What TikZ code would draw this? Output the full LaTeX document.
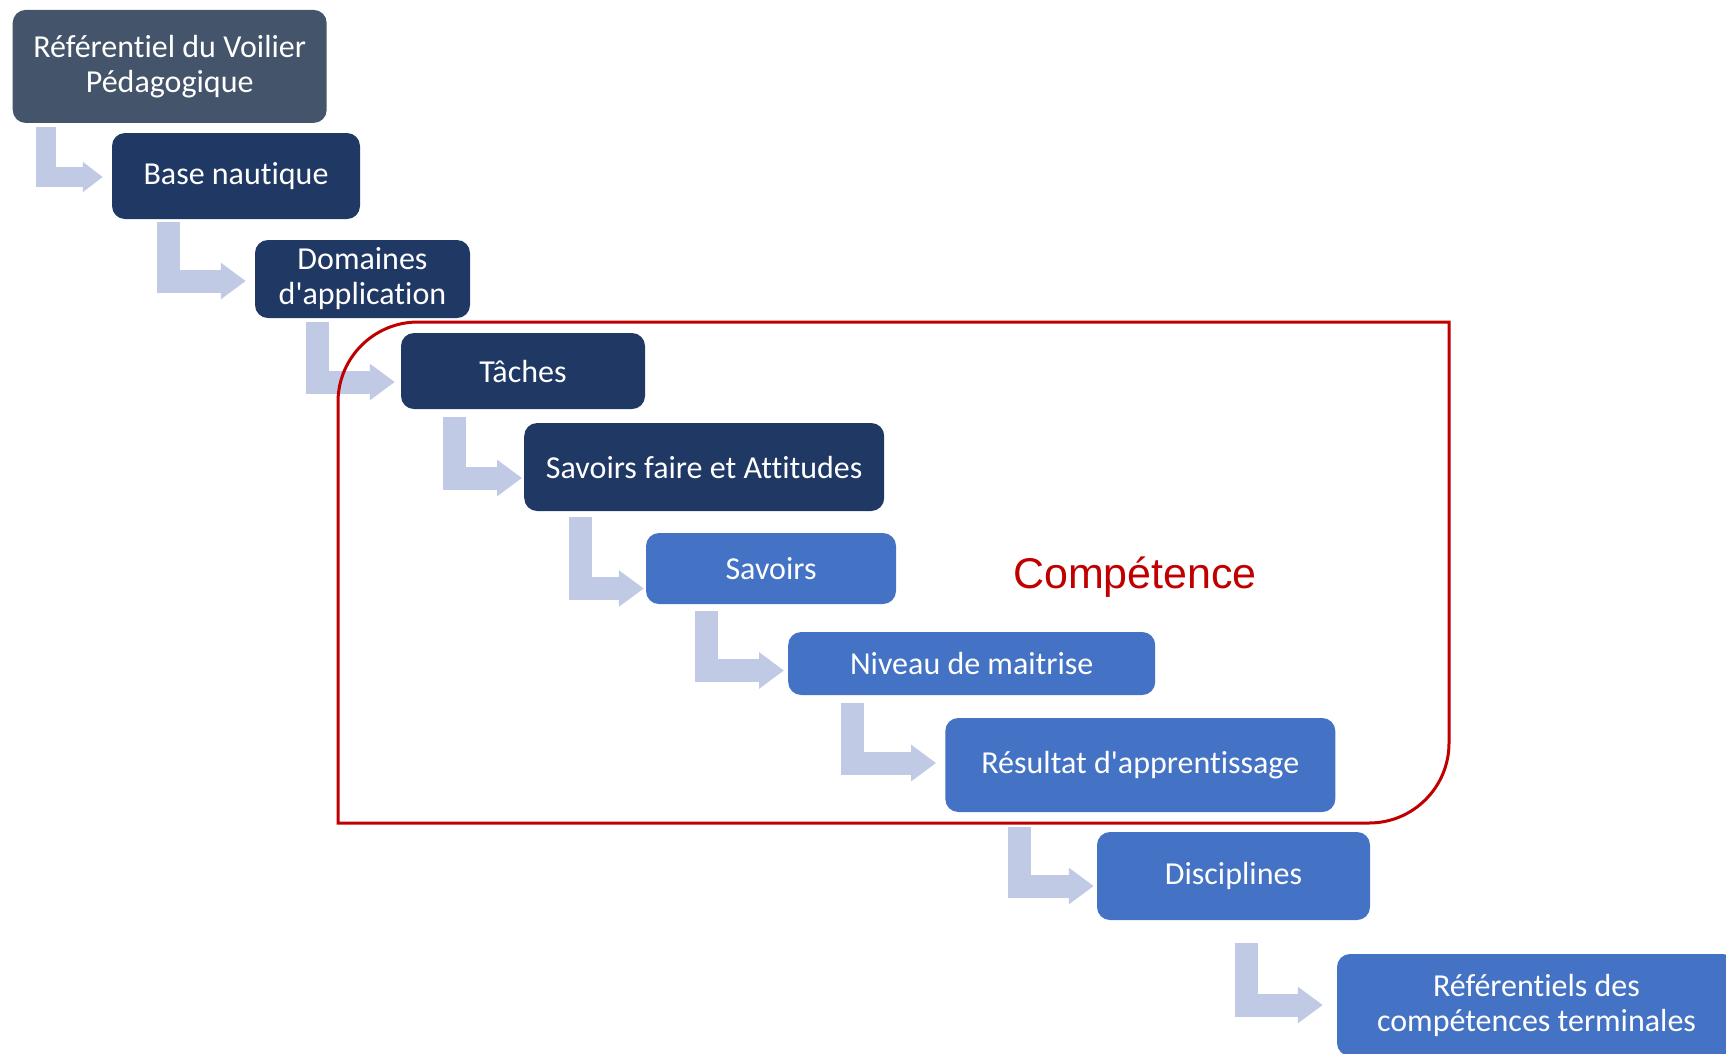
\documentclass[tikz,border=0pt]{standalone}
\usepackage{fontspec}
\setmainfont{Carlito}[Ligatures=NoCommon]
\newfontfamily\arialfont{Liberation Sans}
\usetikzlibrary{arrows.meta}
\definecolor{slate}{HTML}{44546A}
\definecolor{navy}{HTML}{203864}
\definecolor{midblue}{HTML}{4472C4}
\definecolor{bentcol}{HTML}{C0CAE4}
\definecolor{framered}{HTML}{C00000}
\tikzset{
  box/.style={rounded corners=13pt, text=white, align=center, inner sep=0pt,
    font=\fontsize{32}{35}\selectfont},
  bent/.style={draw=bentcol, line width=23pt, -{Triangle[length=25pt,width=35pt]}},
}
\begin{document}
\begin{tikzpicture}[x=1pt,y=-1pt]
\path[use as bounding box, clip] (0,0) rectangle (1726,1053);

\node [box, fill=slate, minimum width=314pt, minimum height=113pt] (ref) at (169.7,66.4) {Référentiel du Voilier\\Pédagogique};

\node [box, fill=navy, minimum width=248pt, minimum height=86pt] (base) at (236,176) {Base nautique};

\node [box, fill=navy, minimum width=215pt, minimum height=78pt] (domaines) at (362.5,279) {Domaines\\d\textquotesingle application};

\node [box, fill=navy, minimum width=244pt, minimum height=76pt] (taches) at (523,371) {Tâches};

\node [box, fill=navy, minimum width=360pt, minimum height=88pt] (savfaire) at (704.2,467) {Savoirs faire et Attitudes};

\node [box, fill=midblue, minimum width=250pt, minimum height=71pt] (savoirs) at (771,568.5) {Savoirs};

\node [box, fill=midblue, minimum width=367pt, minimum height=63pt] (niveau) at (971.7,663.5) {Niveau de maitrise};

\node [box, fill=midblue, minimum width=390pt, minimum height=94pt] (resultat) at (1140.3,765) {Résultat d\textquotesingle apprentissage};

\node [box, fill=midblue, minimum width=273pt, minimum height=88pt] (disc) at (1233.5,876) {Disciplines};

\node [box, fill=midblue, minimum width=399pt, minimum height=102pt] (refcomp) at (1536.5,1005) {Référentiels des\\compétences terminales};

\node [text=framered, anchor=base, font=\arialfont\fontsize{43}{50}\selectfont] (comp) at (1135,588) {Compétence};

\draw [bent, line width=20pt, -{Triangle[length=20pt,width=29pt]}] ([xshift=33pt,yshift=-4pt]ref.south west) |- ([xshift=-9pt,yshift=-1pt]base.west);

\draw [bent] ([xshift=57pt,yshift=-3pt]base.south west) |- ([xshift=-9pt,yshift=-2pt]domaines.west);

\draw [bent] ([xshift=63pt,yshift=-4pt]domaines.south west) |- ([xshift=-6pt,yshift=-11pt]taches.west);

\draw [bent] ([xshift=54pt,yshift=-8pt]taches.south west) |- ([xshift=-2pt,yshift=-11pt]savfaire.west);

\draw [bent] ([xshift=56pt,yshift=-6pt]savfaire.south west) |- ([xshift=-2pt,yshift=-20pt]savoirs.west);

\draw [bent] ([xshift=61pt,yshift=-7pt]savoirs.south west) |- ([xshift=-4pt,yshift=-7pt]niveau.west);

\draw [bent] ([xshift=64pt,yshift=-8pt]niveau.south west) |- ([xshift=-9pt,yshift=2pt]resultat.west);

\draw [bent] ([xshift=74pt,yshift=-15pt]resultat.south west) |- ([xshift=-3pt,yshift=-10pt]disc.west);

\draw [bent] ([xshift=150pt,yshift=-23pt]disc.south west) |- ([xshift=-14pt,yshift=0pt]refcomp.west);

\draw [framered, line width=3pt] (338,823) -- (338,402) arc[start angle=180,end angle=270,radius=80] -- (1449,322) -- (1449,743) arc[start angle=0,end angle=90,radius=80] -- cycle;

\end{tikzpicture}
\end{document}
